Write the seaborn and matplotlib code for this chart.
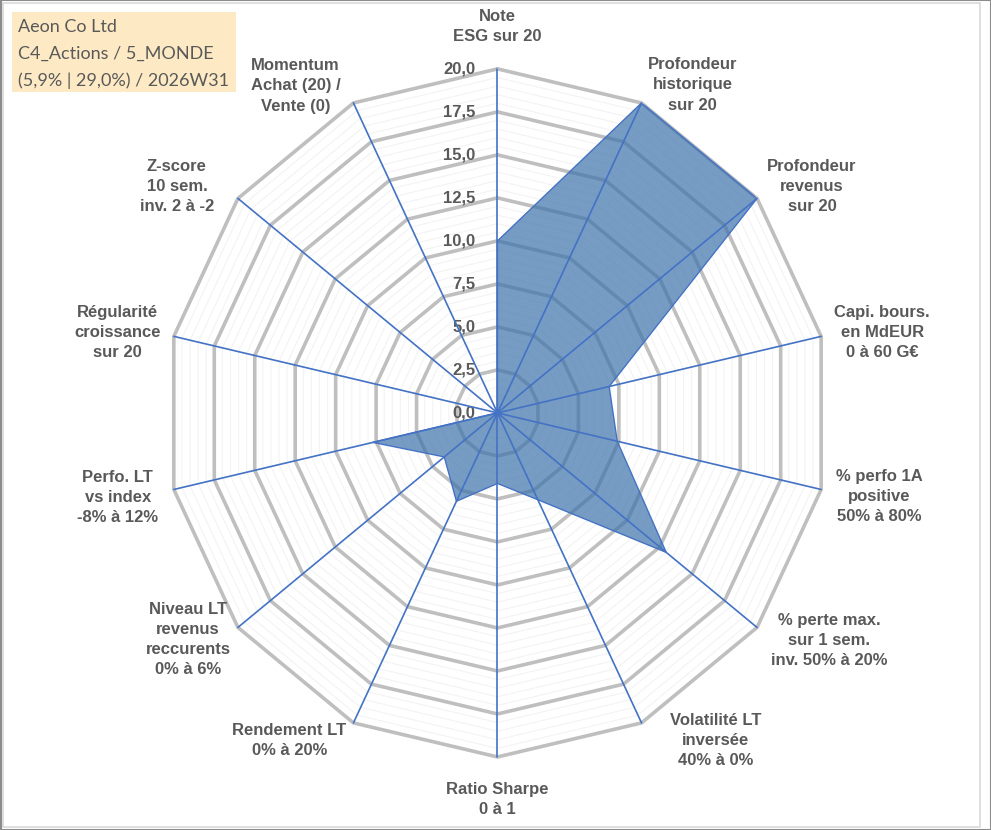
import numpy as np
import matplotlib.pyplot as plt
import seaborn as sns
from matplotlib.patches import Rectangle

# --- data ---
box_lines = ["Aeon Co Ltd", "C4_Actions / 5_MONDE", "(5,9% | 29,0%) / 2026W31"]

axis_labels = [
    "Note\nESG sur 20",
    "Profondeur\nhistorique\nsur 20",
    "Profondeur\nrevenus\nsur 20",
    "Capi. bours.\nen MdEUR\n0 à 60 G€",
    "% perfo 1A\npositive\n50% à 80%",
    "% perte max.\nsur 1 sem.\ninv. 50% à 20%",
    "Volatilité LT\ninversée\n40% à 0%",
    "Ratio Sharpe\n0 à 1",
    "Rendement LT\n0% à 20%",
    "Niveau LT\nrevenus\nreccurents\n0% à 6%",
    "Perfo. LT\nvs index\n-8% à 12%",
    "Régularité\ncroissance\nsur 20",
    "Z-score\n10 sem.\ninv. 2 à -2",
    "Momentum\nAchat (20) /\nVente (0)",
]
scores = [10.0, 20.0, 20.0, 6.9, 7.4, 13.0, 5.6, 4.1, 5.7, 4.1, 7.7, 0.0, 0.0, 0.0]
r_ticks = [0.0, 2.5, 5.0, 7.5, 10.0, 12.5, 15.0, 17.5, 20.0]
r_max = 20.0

# label centre offsets from the outer vertex, in pixels (x right, y down)
label_offsets = [(0, -42), (51, -18), (55, -12), (61, -4), (58, 7), (72, 13), (74, 18),
                 (0, 43), (-64, 18), (-50, 12), (-56, 8), (-56, -4), (-61, -12), (-58, -17)]

sns.set_style("white")
plt.rcParams["font.family"] = ["Liberation Sans", "DejaVu Sans"]
text_col = "#595959"

n = len(axis_labels)
theta = np.linspace(0, 2 * np.pi, n, endpoint=False)
theta_closed = np.append(theta, theta[0])

fig = plt.figure(figsize=(9.91, 8.30), dpi=100)
ax = fig.add_axes([0.167, 0.088, 0.670, 0.829], projection="polar")
ax.set_aspect("auto")
ax.set_theta_zero_location("N")
ax.set_theta_direction(-1)
ax.set_ylim(0, r_max)
ax.grid(False)
ax.set_xticks([])
ax.set_yticks([])
ax.spines["polar"].set_visible(False)
ax.patch.set_alpha(0)

# polygon gridlines: faint minor every 0.5, grey major every 2.5
for r in np.arange(0.5, r_max + 0.01, 0.5):
    major = abs(r / 2.5 - round(r / 2.5)) < 1e-6
    ax.plot(theta_closed, [r] * (n + 1),
            color="#BFBFBF" if major else "#F3F3F3",
            lw=2.6 if major else 0.8, zorder=1 if major else 0.5, clip_on=False)

# filled series
ax.fill(theta_closed, scores + scores[:1], color="#3E73AB", alpha=0.7, lw=0, zorder=2)
sns.lineplot(x=theta_closed, y=scores + scores[:1], ax=ax, sort=False, estimator=None,
             color="#4472C4", lw=1.0, zorder=3)

# spokes
for t in theta:
    ax.plot([t, t], [0, r_max], color="#4472C4", lw=1.2, zorder=4, clip_on=False)

# radial tick labels along the top spoke
for r in r_ticks:
    ax.annotate(f"{r:.1f}".replace(".", ","), xy=(0, r), xytext=(-22, 0),
                textcoords="offset pixels", ha="right", va="center",
                fontsize=12, fontweight="bold", color=text_col, annotation_clip=False)

# category labels
for t, lab, (ox, oy) in zip(theta, axis_labels, label_offsets):
    ax.annotate(lab, xy=(t, r_max), xytext=(ox, -oy), textcoords="offset pixels",
                ha="center", va="center", multialignment="center", linespacing=1.42,
                fontsize=12, fontweight="bold", color=text_col, annotation_clip=False)

ax.set_xlabel("")
ax.set_ylabel("")

# info box top-left
fig.patches.append(Rectangle((12 / 991, 1 - 92 / 830), 224 / 991, 80 / 830,
                             transform=fig.transFigure, facecolor="#FDEAC4",
                             edgecolor="none", zorder=0))
for i, line in enumerate(box_lines):
    fig.text(18 / 991, 1 - (27 + 26.7 * i) / 830, line, ha="left", va="center",
             fontsize=13, color=text_col, family=["Lato", "DejaVu Sans"])

# chart borders
fig.patches.append(Rectangle((3 / 991, 3 / 830), 977 / 991, 824 / 830,
                             transform=fig.transFigure, facecolor="none",
                             edgecolor="#D9D9D9", lw=1.2))
fig.patches.append(Rectangle((0.5 / 991, 0.5 / 830), 990 / 991, 829 / 830,
                             transform=fig.transFigure, facecolor="none",
                             edgecolor="#8C8C8C", lw=1.5))

fig.savefig("out.png", dpi=100)
